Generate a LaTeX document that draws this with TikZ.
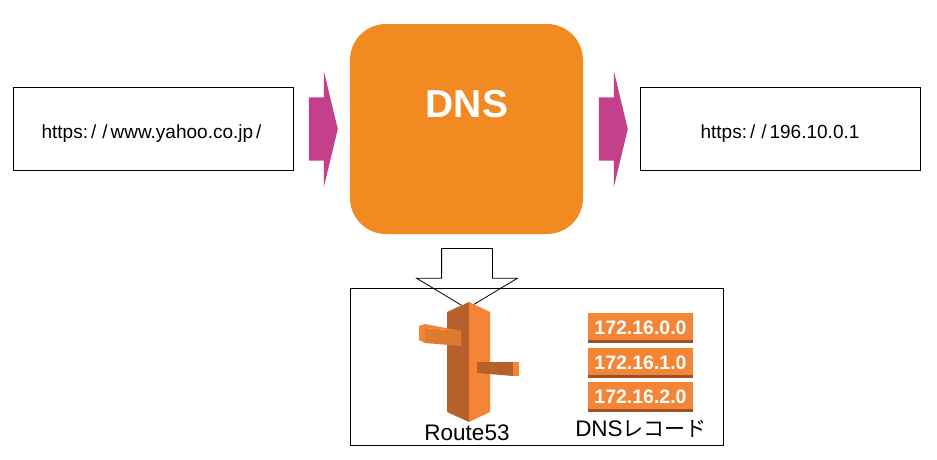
\documentclass[tikz,border=0pt]{standalone}
\usepackage{fontspec}
\setmainfont{Liberation Sans}
\newfontfamily\kanafont{Noto Sans CJK JP}
\usetikzlibrary{shapes.arrows}
\definecolor{dnsorange}{HTML}{F28A22}
\definecolor{flowpink}{HTML}{C5408B}
\definecolor{iconlight}{HTML}{F58536}
\definecolor{icondark}{HTML}{B8602B}
\definecolor{iconmid}{HTML}{E07A2E}
\definecolor{recordband}{HTML}{9C5224}
\newcommand{\wideslash}{\kern3pt/\kern3pt}
\tikzset{
  urlbox/.style={draw=black,line width=0.9pt,minimum width=280pt,minimum height=83pt,inner sep=0pt,
    text height=19.6pt,text depth=0pt,font=\fontsize{19}{22}\selectfont},
  flowarrow/.style={single arrow,fill=flowpink,inner xsep=0pt,inner ysep=31.5pt,minimum height=29pt,
    single arrow head extend=26pt,single arrow tip angle=153,anchor=tip},
  recordbox/.style={fill=iconlight,minimum width=105pt,minimum height=30pt,inner sep=0pt,text=white,
    font=\bfseries\fontsize{19.5}{20}\selectfont,
    path picture={\fill[recordband] ([yshift=3pt]path picture bounding box.south west) rectangle (path picture bounding box.south east);}},
  iconlabel/.style={inner sep=0pt,font=\fontsize{22.5}{24}\selectfont}
}
\begin{document}
\begin{tikzpicture}[x=1pt,y=-1pt]
  \useasboundingbox (0,0) rectangle (937,459);
  \node[urlbox] (source) at (153,128.5) {https:\wideslash\wideslash www.yahoo.co.jp\wideslash};
  \node[urlbox] (target) at (780,128.5) {https:\wideslash\wideslash 196.10.0.1};
  \node[fill=dnsorange,rounded corners=36pt,minimum width=233pt,minimum height=210pt,inner sep=0pt] (dns) at (466.5,129) {};
  \node[text=white,inner sep=0pt,font=\fontsize{39}{40}\selectfont\bfseries] (dnstext) at (467,104) {DNS};
  \node[flowarrow] (inarrow) at (338,129) {};
  \node[flowarrow] (outarrow) at (628,129) {};
  \node[single arrow,shape border rotate=270,draw=black,line width=0.8pt,fill=white,inner xsep=25pt,inner ysep=0pt,
    minimum height=60pt,single arrow head extend=25pt,single arrow tip angle=118,anchor=tip] (downarrow) at (467,309) {};
  \node[draw=black,line width=0.9pt,minimum width=373pt,minimum height=157pt,inner sep=0pt] (store) at (536.5,366.5) {};
  % route53 icon
  \fill[icondark] (447,312) -- (469,302) -- (469,422) -- (447,412) -- cycle;
  \fill[iconlight] (469,302) -- (490,312) -- (490,412) -- (469,422) -- cycle;
  \fill[iconmid] (425,328) -- (461,331) -- (461,346) -- (425,343) -- cycle;
  \fill[iconlight] (419,326) -- (425,324) -- (461,331) -- (425,328) -- (425,343) -- (419,340) -- cycle;
  \fill[icondark] (477,362) -- (513,362) -- (513,376) -- (477,373) -- cycle;
  \fill[iconlight] (513,362) -- (519,362) -- (519,376) -- (513,376) -- cycle;
  \node[iconlabel] (route) at (467,433) {Route53};
  % records
  \foreach \name/\ypos/\addr in {rec0/328/172.16.0.0,rec1/362.5/172.16.1.0,rec2/397/172.16.2.0}
    \node[recordbox] (\name) at (640.5,\ypos) {\addr};
  \node[iconlabel] (records) at (641,429) {DNS{\kanafont\fontsize{21}{24}\selectfont レコード}};
\end{tikzpicture}
\end{document}
